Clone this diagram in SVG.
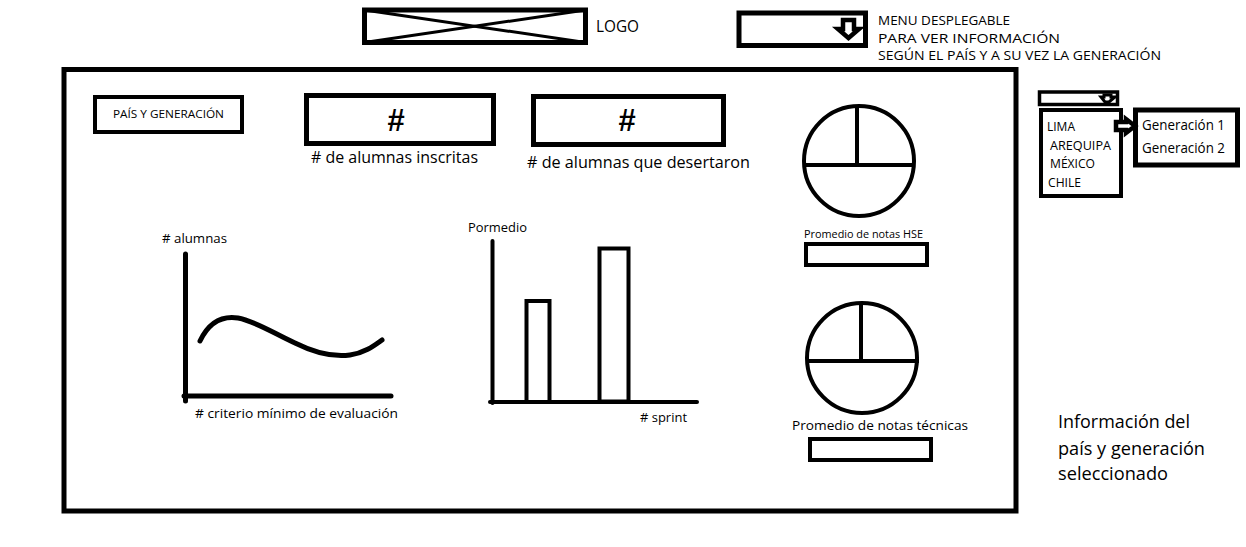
<svg xmlns="http://www.w3.org/2000/svg" width="1246" height="547" viewBox="0 0 1246 547">
<style>
.box{fill:#fff;stroke:#000;stroke-width:5}
.thin{fill:none;stroke:#000;stroke-width:4}
.t{font-family:"Open Sans","Noto Sans","Liberation Sans",sans-serif;fill:#000}
.hash{font-family:"Liberation Sans",sans-serif;font-weight:bold;font-size:31px;fill:#000}
</style>
<rect width="1246" height="547" fill="#fff"/>

<g id="logo">
<rect class="box" x="364.5" y="10" width="221" height="32.5"/>
<line x1="364.5" y1="10" x2="585.5" y2="42.5" stroke="#000" stroke-width="3"/>
<line x1="364.5" y1="42.5" x2="585.5" y2="10" stroke="#000" stroke-width="3"/>
<text class="t" x="596" y="32" font-size="16" textLength="43" lengthAdjust="spacingAndGlyphs">LOGO</text>
</g>

<g id="menu">
<rect class="box" x="739" y="13" width="126.5" height="32.5"/>
<polygon points="843,20 854,20 854,29 859,29 848.5,38 838,29 843,29" fill="#fff" stroke="#000" stroke-width="4.5" stroke-linejoin="miter"/>
<text class="t" x="878" y="25" font-size="13" textLength="132" lengthAdjust="spacingAndGlyphs">MENU DESPLEGABLE</text>
<text class="t" x="878" y="42.5" font-size="13" textLength="182" lengthAdjust="spacingAndGlyphs">PARA VER INFORMACIÓN</text>
<text class="t" x="878" y="60" font-size="13" textLength="283" lengthAdjust="spacingAndGlyphs">SEGÚN EL PAÍS Y A SU VEZ LA GENERACIÓN</text>
</g>

<g id="main-frame">
<rect class="box" x="64" y="69.5" width="952" height="441.5"/>
</g>

<g id="pais-generacion">
<rect class="thin" x="95" y="97" width="147" height="35"/>
<text class="t" x="113" y="118" font-size="11" textLength="111" lengthAdjust="spacingAndGlyphs">PAÍS Y GENERACIÓN</text>
</g>

<g id="inscritas">
<rect class="box" x="306.5" y="95.5" width="187" height="48"/>
<text class="hash" x="396" y="131" text-anchor="middle">#</text>
<text class="t" x="311" y="163" font-size="16" textLength="167" lengthAdjust="spacingAndGlyphs"># de alumnas inscritas</text>
</g>

<g id="desertaron">
<rect class="box" x="533.5" y="96.5" width="190" height="48"/>
<text class="hash" x="627" y="131" text-anchor="middle">#</text>
<text class="t" x="527" y="168" font-size="16" textLength="223" lengthAdjust="spacingAndGlyphs"># de alumnas que desertaron</text>
</g>

<g id="pie-hse">
<circle class="thin" cx="859" cy="161" r="55"/>
<line x1="805" y1="165" x2="914" y2="165" stroke="#000" stroke-width="4"/>
<line x1="857" y1="105" x2="857" y2="165" stroke="#000" stroke-width="4"/>
<text class="t" x="804" y="238" font-size="11" textLength="119" lengthAdjust="spacingAndGlyphs">Promedio de notas HSE</text>
<rect class="thin" x="806" y="244" width="121" height="21"/>
</g>

<g id="pie-tecnicas">
<circle class="thin" cx="862" cy="358" r="55"/>
<line x1="808" y1="361" x2="919" y2="361" stroke="#000" stroke-width="4"/>
<line x1="861" y1="303" x2="861" y2="361" stroke="#000" stroke-width="4"/>
<text class="t" x="792" y="430" font-size="13.5" textLength="176" lengthAdjust="spacingAndGlyphs">Promedio de notas técnicas</text>
<rect class="thin" x="810" y="439" width="121" height="21"/>
</g>

<g id="line-chart">
<text class="t" x="162" y="243" font-size="13.5" textLength="65" lengthAdjust="spacingAndGlyphs"># alumnas</text>
<line x1="185.5" y1="254" x2="185.5" y2="401" stroke="#000" stroke-width="5" stroke-linecap="round"/>
<line x1="184" y1="396" x2="391" y2="396" stroke="#000" stroke-width="5" stroke-linecap="round"/>
<path d="M200,341 C210,320 225,316 238,318 C255,321 275,334 295,343 C315,353 335,357 350,355 C365,353 375,345 382,340" fill="none" stroke="#000" stroke-width="5" stroke-linecap="round"/>
<text class="t" x="195" y="418" font-size="13.5" textLength="203" lengthAdjust="spacingAndGlyphs"># criterio mínimo de evaluación</text>
</g>

<g id="bar-chart">
<text class="t" x="468" y="232" font-size="13.5" textLength="59" lengthAdjust="spacingAndGlyphs">Pormedio</text>
<line x1="492.5" y1="241" x2="492.5" y2="403" stroke="#000" stroke-width="4" stroke-linecap="round"/>
<line x1="490" y1="402" x2="697" y2="402" stroke="#000" stroke-width="4" stroke-linecap="round"/>
<rect class="thin" x="526.5" y="301" width="23" height="101"/>
<rect class="thin" x="599.5" y="248.5" width="29" height="153"/>
<text class="t" x="640" y="422" font-size="13.5" textLength="47" lengthAdjust="spacingAndGlyphs"># sprint</text>
</g>

<g id="dropdown">
<rect fill="#fff" stroke="#000" stroke-width="3.5" x="1039.5" y="92" width="78" height="12.5"/>
<polygon points="1104,95 1111,95 1111,97 1115,97 1109,102 1105,102 1101,97 1104,97" fill="#fff" stroke="#000" stroke-width="3"/>
</g>

<g id="country-list">
<rect fill="#fff" stroke="#000" stroke-width="4" x="1041" y="110" width="80" height="86"/>
<text class="t" x="1047" y="131" font-size="12" textLength="28" lengthAdjust="spacingAndGlyphs">LIMA</text>
<text class="t" x="1050" y="150" font-size="12" textLength="61" lengthAdjust="spacingAndGlyphs">AREQUIPA</text>
<text class="t" x="1050" y="168" font-size="12" textLength="45" lengthAdjust="spacingAndGlyphs">MÉXICO</text>
<text class="t" x="1048" y="187" font-size="12" textLength="33" lengthAdjust="spacingAndGlyphs">CHILE</text>
</g>

<g id="generation-list">
<rect fill="#fff" stroke="#000" stroke-width="5" x="1135.5" y="110" width="102" height="55"/>
<text class="t" x="1142" y="130" font-size="14" textLength="83" lengthAdjust="spacingAndGlyphs">Generación 1</text>
<text class="t" x="1142" y="153" font-size="14" textLength="83" lengthAdjust="spacingAndGlyphs">Generación 2</text>
</g>

<g id="connectors">
<polygon points="1116,122 1126,122 1126,119 1135,126 1126,133 1126,130 1116,130" fill="#fff" stroke="#000" stroke-width="4.5"/>
</g>

<g id="info-text">
<text class="t" x="1058" y="428" font-size="18" textLength="132" lengthAdjust="spacingAndGlyphs">Información del</text>
<text class="t" x="1058" y="455" font-size="18" textLength="147" lengthAdjust="spacingAndGlyphs">país y generación</text>
<text class="t" x="1058" y="480" font-size="18" textLength="110" lengthAdjust="spacingAndGlyphs">seleccionado</text>
</g>
</svg>
